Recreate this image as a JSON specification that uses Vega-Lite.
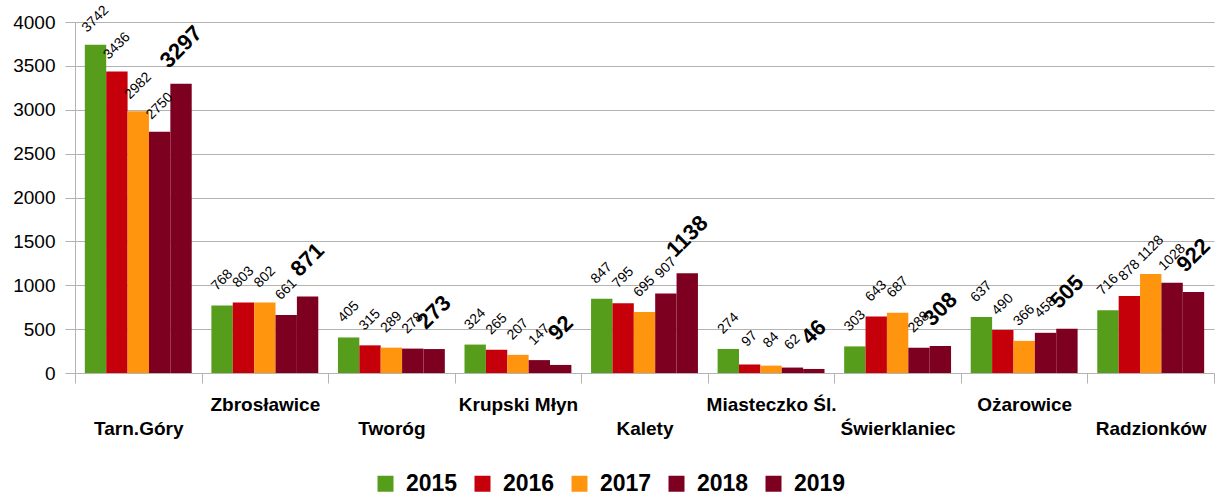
{
  "$schema": "https://vega.github.io/schema/vega-lite/v6.json",
  "width": 1139,
  "height": 351,
  "autosize": {"type": "none"},
  "padding": {"left": 75, "top": 22, "right": 4, "bottom": 122},
  "background": "white",
  "data": {"values": [
    {"town": "Tarn.Góry", "year": "2015", "value": 3742},
    {"town": "Tarn.Góry", "year": "2016", "value": 3436},
    {"town": "Tarn.Góry", "year": "2017", "value": 2982},
    {"town": "Tarn.Góry", "year": "2018", "value": 2750},
    {"town": "Tarn.Góry", "year": "2019", "value": 3297},
    {"town": "Zbrosławice", "year": "2015", "value": 768},
    {"town": "Zbrosławice", "year": "2016", "value": 803},
    {"town": "Zbrosławice", "year": "2017", "value": 802},
    {"town": "Zbrosławice", "year": "2018", "value": 661},
    {"town": "Zbrosławice", "year": "2019", "value": 871},
    {"town": "Tworóg", "year": "2015", "value": 405},
    {"town": "Tworóg", "year": "2016", "value": 315},
    {"town": "Tworóg", "year": "2017", "value": 289},
    {"town": "Tworóg", "year": "2018", "value": 278},
    {"town": "Tworóg", "year": "2019", "value": 273},
    {"town": "Krupski Młyn", "year": "2015", "value": 324},
    {"town": "Krupski Młyn", "year": "2016", "value": 265},
    {"town": "Krupski Młyn", "year": "2017", "value": 207},
    {"town": "Krupski Młyn", "year": "2018", "value": 147},
    {"town": "Krupski Młyn", "year": "2019", "value": 92},
    {"town": "Kalety", "year": "2015", "value": 847},
    {"town": "Kalety", "year": "2016", "value": 795},
    {"town": "Kalety", "year": "2017", "value": 695},
    {"town": "Kalety", "year": "2018", "value": 907},
    {"town": "Kalety", "year": "2019", "value": 1138},
    {"town": "Miasteczko Śl.", "year": "2015", "value": 274},
    {"town": "Miasteczko Śl.", "year": "2016", "value": 97},
    {"town": "Miasteczko Śl.", "year": "2017", "value": 84},
    {"town": "Miasteczko Śl.", "year": "2018", "value": 62},
    {"town": "Miasteczko Śl.", "year": "2019", "value": 46},
    {"town": "Świerklaniec", "year": "2015", "value": 303},
    {"town": "Świerklaniec", "year": "2016", "value": 643},
    {"town": "Świerklaniec", "year": "2017", "value": 687},
    {"town": "Świerklaniec", "year": "2018", "value": 288},
    {"town": "Świerklaniec", "year": "2019", "value": 308},
    {"town": "Ożarowice", "year": "2015", "value": 637},
    {"town": "Ożarowice", "year": "2016", "value": 490},
    {"town": "Ożarowice", "year": "2017", "value": 366},
    {"town": "Ożarowice", "year": "2018", "value": 458},
    {"town": "Ożarowice", "year": "2019", "value": 505},
    {"town": "Radzionków", "year": "2015", "value": 716},
    {"town": "Radzionków", "year": "2016", "value": 878},
    {"town": "Radzionków", "year": "2017", "value": 1128},
    {"town": "Radzionków", "year": "2018", "value": 1028},
    {"town": "Radzionków", "year": "2019", "value": 922}
  ]},
  "encoding": {
    "x": {
      "field": "town", "type": "nominal", "sort": null,
      "scale": {"paddingInner": 0, "paddingOuter": 0},
      "axis": {
        "title": null, "tickBand": "extent", "tickSize": 10,
        "tickColor": "#b3b3b3", "domainColor": "#b3b3b3", "grid": false,
        "labelAngle": 0, "labelFont": "Liberation Sans", "labelFontWeight": "bold",
        "labelFontSize": 19, "labelColor": "black", "labelPadding": 12,
        "labelOverlap": false, "labelLineHeight": 24, "labelBaseline": "top",
        "labelExpr": "indexof(['Tarn.Góry','Tworóg','Kalety','Świerklaniec','Radzionków'], datum.value) >= 0 ? ['', datum.value] : datum.value"
      }
    },
    "xOffset": {"field": "year", "type": "nominal", "scale": {"paddingInner": 0, "paddingOuter": 0.46}},
    "y": {
      "field": "value", "type": "quantitative",
      "scale": {"domain": [0, 4000], "nice": false},
      "axis": {
        "title": null, "values": [0, 500, 1000, 1500, 2000, 2500, 3000, 3500, 4000], "format": "d",
        "tickSize": 10, "tickColor": "#b3b3b3", "domainColor": "#b3b3b3",
        "gridColor": "#b3b3b3", "labelFont": "Liberation Sans", "labelFontSize": 19,
        "labelColor": "black", "labelPadding": 10
      }
    }
  },
  "layer": [
    {
      "mark": {"type": "bar"},
      "encoding": {
        "color": {
          "field": "year", "type": "nominal",
          "scale": {"domain": ["2015", "2016", "2017", "2018", "2019"], "range": ["#579d1c", "#c5000b", "#ff950e", "#7e0021", "#7e0021"]},
          "legend": {
            "title": null, "orient": "none", "direction": "horizontal",
            "legendX": 299, "legendY": 450, "padding": 0,
            "symbolType": "square", "symbolSize": 256, "symbolStrokeWidth": 0,
            "labelFont": "Liberation Sans", "labelFontWeight": "bold", "labelFontSize": 23,
            "labelColor": "black", "labelOffset": 9, "columnPadding": 13
          }
        }
      }
    },
    {
      "transform": [{"filter": "datum.year != '2019'"}],
      "mark": {"type": "text", "angle": 315, "align": "center", "baseline": "middle", "dx": 18, "dy": -18, "font": "Liberation Sans", "fontSize": 14, "color": "black"},
      "encoding": {"text": {"field": "value", "type": "quantitative"}}
    },
    {
      "transform": [{"filter": "datum.year == '2019'"}],
      "mark": {"type": "text", "angle": 315, "align": "center", "baseline": "middle", "dx": 26, "dy": -26, "font": "Liberation Sans", "fontSize": 22, "fontWeight": "bold", "color": "black"},
      "encoding": {"text": {"field": "value", "type": "quantitative"}}
    }
  ],
  "config": {"view": {"stroke": null}}
}
